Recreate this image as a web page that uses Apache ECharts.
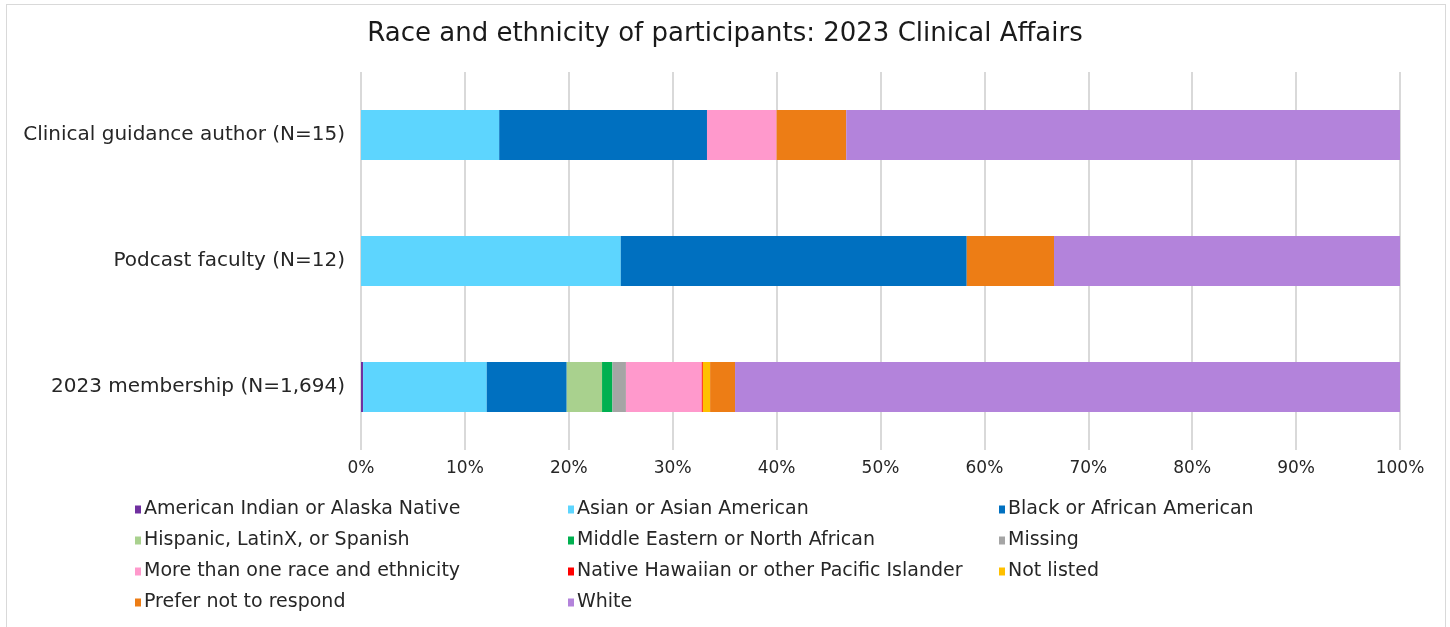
<!DOCTYPE html>
<html>
<head>
<meta charset="utf-8">
<script src="https://cdn.jsdelivr.net/npm/echarts@6/dist/echarts.min.js"></script>
<style>
  html, body { margin: 0; padding: 0; background: #fff; }
  #frame { position: absolute; left: 6px; top: 4px; width: 1438px; height: 640px; border: 1px solid #d9d9d9; }
  #chart { position: absolute; left: 0; top: 0; width: 1450px; height: 627px; }
</style>
</head>
<body>
<div id="frame"></div>
<div id="chart"></div>
<script>
// categories, bottom to top
const groups = ['2023 membership (N=1,694)', 'Podcast faculty (N=12)', 'Clinical guidance author (N=15)']

// percent of each group
const amIndian   = [0.2, 0, 0]
const asian      = [11.9, 25.0, 13.3]
const black      = [7.7, 33.3, 20.0]
const hispanic   = [3.4, 0, 0]
const mena       = [1.0, 0, 0]
const missing    = [1.3, 0, 0]
const moreThan   = [7.3, 0, 6.7]
const hawaiian   = [0.1, 0, 0]
const notListed  = [0.7, 0, 0]
const preferNot  = [2.4, 8.4, 6.7]
const white      = [64.0, 33.3, 53.3]

const names = [
  'American Indian or Alaska Native', 'Asian or Asian American', 'Black or African American',
  'Hispanic, LatinX, or Spanish', 'Middle Eastern or North African', 'Missing',
  'More than one race and ethnicity', 'Native Hawaiian or other Pacific Islander', 'Not listed',
  'Prefer not to respond', 'White'
]
const values = [amIndian, asian, black, hispanic, mena, missing, moreThan, hawaiian, notListed, preferNot, white]
const colors = ['#7030A0', '#5DD5FE', '#0070C0', '#A9D18E', '#00B050', '#A5A5A5',
  '#FF99CC', '#FF0000', '#FFC000', '#ED7D15', '#B383DB']

const font = 'DejaVu Sans'

const series = names.map((n, i) => ({
  name: n,
  type: 'bar',
  stack: 'all',
  barWidth: 50,
  data: values[i],
  itemStyle: { color: colors[i] },
  emphasis: { disabled: true },
}))

// legend in 3 columns
const cols = [[0, 3, 6, 9], [1, 4, 7, 10], [2, 5, 8]]
const colX = [130, 563, 994]
const legends = cols.map((c, k) => ({
  orient: 'vertical',
  left: colX[k],
  top: 495,
  itemGap: 12,
  itemWidth: 6,
  itemHeight: 8,
  icon: 'rect',
  selectedMode: false,
  textStyle: { fontFamily: font, fontSize: 19, color: '#262626', padding: [0, 0, 0, -2] },
  data: c.map(i => names[i]),
}))

const chart = echarts.init(document.querySelector('#chart'))
chart.setOption({
  animation: false,
  title: {
    text: 'Race and ethnicity of participants: 2023 Clinical Affairs',
    left: 'center',
    top: 16,
    textStyle: { fontFamily: font, fontSize: 26, fontWeight: 'normal', color: '#1a1a1a' },
  },
  color: colors,
  legend: legends,
  grid: { left: 361, right: 50, top: 72, bottom: 177 },
  xAxis: {
    type: 'value',
    min: 0,
    max: 100,
    interval: 10,
    axisLabel: { formatter: '{value}%', fontFamily: font, fontSize: 17, color: '#262626', margin: 10 },
    splitLine: { lineStyle: { color: '#d9d9d9', width: 2 } },
    axisLine: { show: false },
    axisTick: { show: false },
  },
  yAxis: {
    type: 'category',
    data: groups,
    axisLabel: { fontFamily: font, fontSize: 20, color: '#262626', margin: 16 },
    axisLine: { show: false },
    axisTick: { show: false },
  },
  series: series,
})
</script>
</body>
</html>
